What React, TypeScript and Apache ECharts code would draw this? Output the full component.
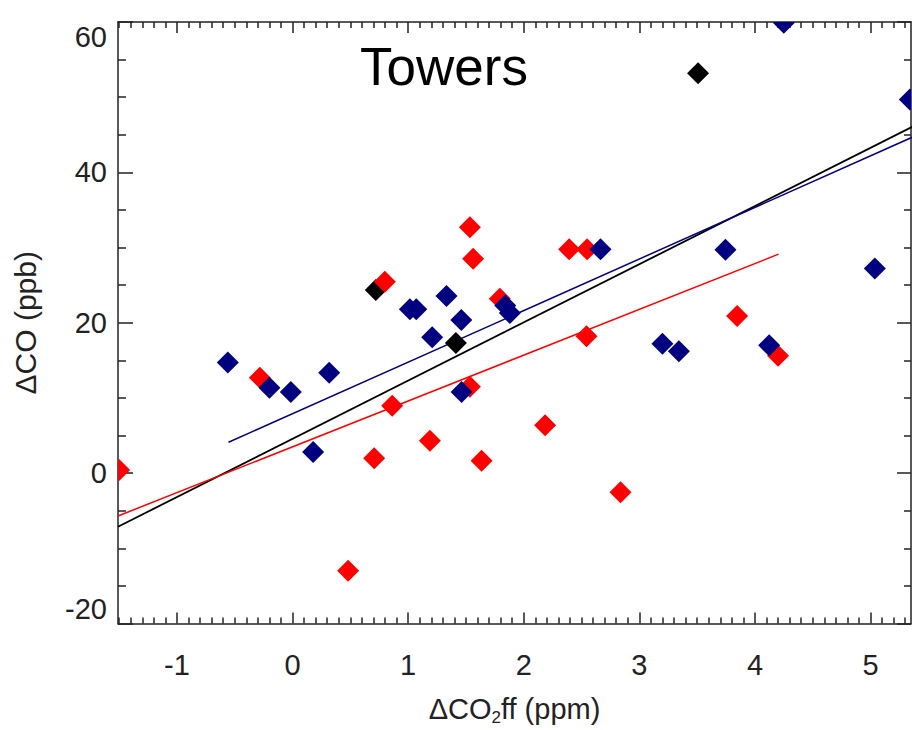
import React, { useEffect, useRef } from 'react';
import * as echarts from 'echarts';

// ---- data ----
const xTickValues = [-1, 0, 1, 2, 3, 4, 5];
const yTickValues = [-20, 0, 20, 40, 60];

const navyPoints: number[][] = [
  [-0.56, 14.7], [-0.2, 11.35], [-0.015, 10.8], [0.317, 13.35], [0.178, 2.8],
  [1.015, 21.8], [1.07, 21.8], [1.208, 18.06], [1.332, 23.55], [1.46, 20.36],
  [1.462, 10.8], [1.84, 22.3], [1.88, 21.3], [2.664, 29.76], [3.2, 17.2],
  [3.342, 16.2], [3.745, 29.7], [4.123, 17.0], [4.25, 59.9], [5.037, 27.2],
  [5.34, 49.7],
];
const redPoints: number[][] = [
  [-1.5, 0.4], [-0.283, 12.7], [0.798, 25.45], [0.862, 8.96], [0.706, 1.97],
  [0.481, -12.98], [1.188, 4.3], [1.534, 32.7], [1.562, 28.5], [1.534, 11.5],
  [1.635, 1.65], [1.793, 23.2], [2.185, 6.36], [2.393, 29.76], [2.548, 29.76],
  [2.543, 18.2], [2.837, -2.55], [3.846, 20.9], [4.2, 15.6],
];
const blackPoints: number[][] = [
  [0.72, 24.35], [1.413, 17.3], [3.508, 53.2],
];

// regression fits: all data (black), red group, navy group
const fitColors = ['#000000', '#ff0000', '#000080'];
const fitSlopes = [7.742, 6.093, 6.86];
const fitIntercepts = [4.56, 3.5, 7.9];
const fitXStart = [-1.51, -1.51, -0.554];
const fitXEnd = [5.36, 4.205, 5.36];

const X_MIN = -1.51;
const X_MAX = 5.35;
const Y_MIN = -20;
const Y_MAX = 60;

const AXIS_COLOR = '#222';
const FONT = "'Liberation Sans', Arial, Helvetica, sans-serif";

function minorXTicks(): number[] {
  const out: number[] = [];
  for (let i = -15; i <= 53; i++) {
    if (i % 10 !== 0) out.push(i / 10);
  }
  return out;
}

function diamondSeries(name: string, data: number[][], color: string) {
  return {
    name,
    type: 'custom',
    clip: true,
    data,
    encode: { x: 0, y: 1 },
    z: 3,
    renderItem: (_params: any, api: any) => {
      const p = api.coord([api.value(0), api.value(1)]);
      const h = 11;
      return {
        type: 'polygon',
        shape: {
          points: [
            [p[0], p[1] - h],
            [p[0] + h, p[1]],
            [p[0], p[1] + h],
            [p[0] - h, p[1]],
          ],
        },
        style: { fill: color },
      };
    },
  };
}

export default function App() {
  const ref = useRef<HTMLDivElement>(null);

  useEffect(() => {
    if (!ref.current) return;
    const chart = echarts.init(ref.current, undefined, { renderer: 'svg' });
    const minor = minorXTicks();

    const xCommon = {
      type: 'value',
      min: X_MIN,
      max: X_MAX,
      splitLine: { show: false },
    };
    const yCommon = {
      type: 'value',
      min: Y_MIN,
      max: Y_MAX,
      interval: 20,
      splitLine: { show: false },
    };
    const lineStyle = { color: AXIS_COLOR, width: 1.5 };

    const fitSeries = fitSlopes.map((m, i) => ({
      type: 'line',
      clip: true,
      symbol: 'none',
      silent: true,
      z: 2,
      lineStyle: { color: fitColors[i], width: i === 0 ? 1.8 : 1.5 },
      data: [
        [fitXStart[i], fitIntercepts[i] + m * fitXStart[i]],
        [fitXEnd[i], fitIntercepts[i] + m * fitXEnd[i]],
      ],
    }));

    chart.setOption({
      animation: false,
      backgroundColor: '#ffffff',
      textStyle: { fontFamily: FONT },
      grid: {
        left: 118,
        right: 1,
        top: 22,
        bottom: 106.5,
        outerBoundsMode: 'none',
        containLabel: false,
      },
      xAxis: [
        {
          ...xCommon,
          position: 'bottom',
          axisLine: { show: true, onZero: false, lineStyle },
          axisTick: { show: true, inside: true, length: 11, customValues: xTickValues, lineStyle },
          axisLabel: {
            show: true,
            customValues: xTickValues,
            fontSize: 29,
            color: AXIS_COLOR,
            margin: 27,
            fontFamily: FONT,
          },
          name: '{a|ΔCO}{s|2}{a|ff (ppm)}',
          nameLocation: 'middle',
          nameGap: 69,
          nameMoveOverlap: false,
          nameTextStyle: {
            fontFamily: FONT,
            color: AXIS_COLOR,
            rich: {
              a: { fontSize: 29, fontFamily: FONT, color: AXIS_COLOR },
              s: { fontSize: 17, fontFamily: FONT, color: AXIS_COLOR, padding: [16, 0, 0, 0] },
            },
          },
        },
        {
          ...xCommon,
          position: 'bottom',
          axisLine: { show: false, onZero: false },
          axisTick: { show: true, inside: true, length: 6, customValues: minor, lineStyle },
          axisLabel: { show: false },
        },
        {
          ...xCommon,
          position: 'top',
          axisLine: { show: true, onZero: false, lineStyle },
          axisTick: { show: true, inside: true, length: 11, customValues: xTickValues, lineStyle },
          axisLabel: { show: false },
        },
        {
          ...xCommon,
          position: 'top',
          axisLine: { show: false, onZero: false },
          axisTick: { show: true, inside: true, length: 6, customValues: minor, lineStyle },
          axisLabel: { show: false },
        },
      ],
      yAxis: [
        {
          ...yCommon,
          position: 'left',
          axisLine: { show: true, onZero: false, lineStyle },
          axisTick: { show: true, inside: true, length: 15, lineStyle },
          minorTick: { show: true, splitNumber: 4, length: 8, lineStyle },
          axisLabel: {
            show: true,
            customValues: yTickValues,
            fontSize: 29,
            color: AXIS_COLOR,
            margin: 11,
            fontFamily: FONT,
            verticalAlignMaxLabel: 'top',
            verticalAlignMinLabel: 'bottom',
          },
          name: 'ΔCO (ppb)',
          nameLocation: 'middle',
          nameGap: 78,
          nameRotate: 90,
          nameMoveOverlap: false,
          nameTextStyle: { fontSize: 30, fontFamily: FONT, color: AXIS_COLOR },
        },
        {
          ...yCommon,
          position: 'right',
          axisLine: { show: true, onZero: false, lineStyle },
          axisTick: { show: true, inside: true, length: 14, lineStyle },
          minorTick: { show: true, splitNumber: 4, length: 7, lineStyle },
          axisLabel: { show: false },
        },
      ],
      graphic: [
        {
          type: 'text',
          x: 360,
          y: 66,
          z: 10,
          style: {
            text: 'Towers',
            fontSize: 53,
            fontFamily: FONT,
            fill: '#000000',
            verticalAlign: 'middle',
            align: 'left',
          },
        },
      ],
      series: [
        ...fitSeries,
        diamondSeries('all', blackPoints, '#000000'),
        diamondSeries('red', redPoints, '#ff0000'),
        diamondSeries('navy', navyPoints, '#000080'),
      ],
    });

    return () => chart.dispose();
  }, []);

  return (
    <div
      ref={ref}
      style={{ position: 'fixed', left: 0, top: 0, width: 912, height: 730, background: '#fff' }}
    />
  );
}
